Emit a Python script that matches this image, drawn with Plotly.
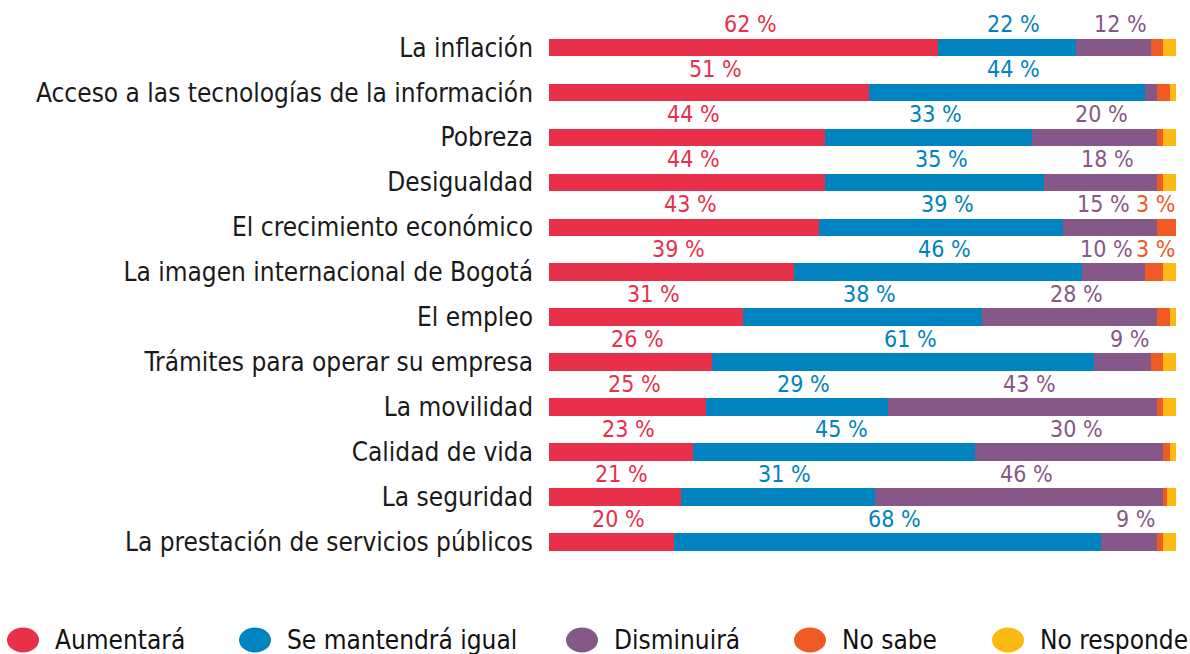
import plotly.graph_objects as go

categories = [
    "La inflación",
    "Acceso a las tecnologías de la información",
    "Pobreza",
    "Desigualdad",
    "El crecimiento económico",
    "La imagen internacional de Bogotá",
    "El empleo",
    "Trámites para operar su empresa",
    "La movilidad",
    "Calidad de vida",
    "La seguridad",
    "La prestación de servicios públicos",
]
aumentara = [62, 51, 44, 44, 43, 39, 31, 26, 25, 23, 21, 20]
mantendra = [22, 44, 33, 35, 39, 46, 38, 61, 29, 45, 31, 68]
disminuira = [12, 2, 20, 18, 15, 10, 28, 9, 43, 30, 46, 9]
no_sabe = [2, 2, 1, 1, 3, 3, 2, 2, 1, 1, 0.5, 1]
no_responde = [2, 1, 2, 2, 1, 2, 1, 2, 2, 1, 1.5, 2]

series_names = ["Aumentará", "Se mantendrá igual", "Disminuirá", "No sabe", "No responde"]
series_values = [aumentara, mantendra, disminuira, no_sabe, no_responde]
colors = ["#E8304A", "#0083BE", "#855887", "#F05A24", "#FDB913"]

FONT = "DejaVu Sans Condensed"
W, H = 1190, 654
ML, MR, MT, MB = 549, 14, 25, 74
plot_w = W - ML - MR
plot_h = H - MT - MB

fig = go.Figure()
for name, vals, col in zip(series_names, series_values, colors):
    fig.add_trace(go.Bar(
        y=categories, x=vals, name=name, orientation="h",
        marker=dict(color=col, line=dict(width=0)),
        showlegend=False, hoverinfo="x+name",
    ))

annotations = []
for i, cat in enumerate(categories):
    cum = 0
    ns_labeled = no_sabe[i] >= 3
    for s, (vals, col) in enumerate(zip(series_values, colors)):
        v = vals[i]
        show = (s < 3 and v >= 5) or (s == 3 and v >= 3)
        if show:
            if s == 3:
                annotations.append(dict(
                    x=100, y=cat, xref="x", yref="y", text=f"{v:g} %",
                    showarrow=False, yshift=23, xanchor="right", xshift=1,
                    font=dict(family=FONT, size=23, color=col),
                ))
            else:
                shift = -7 if (s == 2 and ns_labeled) else 7
                annotations.append(dict(
                    x=cum + v / 2, y=cat, xref="x", yref="y", text=f"{v:g} %",
                    showarrow=False, yshift=23, xshift=shift,
                    font=dict(family=FONT, size=23, color=col),
                ))
        cum += v

# legend (manual, ellipse markers)
leg_x = [23, 255, 582, 810, 1008]
shapes = []
for name, col, lx in zip(series_names, colors, leg_x):
    cy = 640
    rx, ry = 16, 12.5
    shapes.append(dict(
        type="circle", xref="paper", yref="paper",
        x0=(lx - rx - ML) / plot_w, x1=(lx + rx - ML) / plot_w,
        y0=(H - MB - (cy + ry)) / plot_h, y1=(H - MB - (cy - ry)) / plot_h,
        fillcolor=col, line=dict(width=0), layer="above",
    ))
    annotations.append(dict(
        x=(lx + 30 - ML) / plot_w, y=(H - MB - cy) / plot_h, xref="paper", yref="paper",
        text=name, showarrow=False, xanchor="left", yanchor="middle",
        font=dict(family=FONT, size=26, color="#111111"),
    ))

fig.update_layout(
    barmode="stack",
    bargap=0.61,
    width=W, height=H,
    margin=dict(l=ML, r=MR, t=MT, b=MB, autoexpand=False),
    plot_bgcolor="white", paper_bgcolor="white",
    xaxis=dict(range=[0, 100], visible=False, fixedrange=True),
    yaxis=dict(autorange="reversed", showgrid=False, zeroline=False, showline=False,
               ticks="", ticklabelstandoff=15, automargin=False,
               tickfont=dict(family=FONT, size=26, color="#1a1a1a")),
    shapes=shapes,
    annotations=annotations,
    showlegend=False,
)

fig.write_html(
    "out.html",
    config={"displayModeBar": False},
    post_script="document.body.style.margin='0';document.body.style.padding='0';document.body.style.overflow='hidden';",
)
